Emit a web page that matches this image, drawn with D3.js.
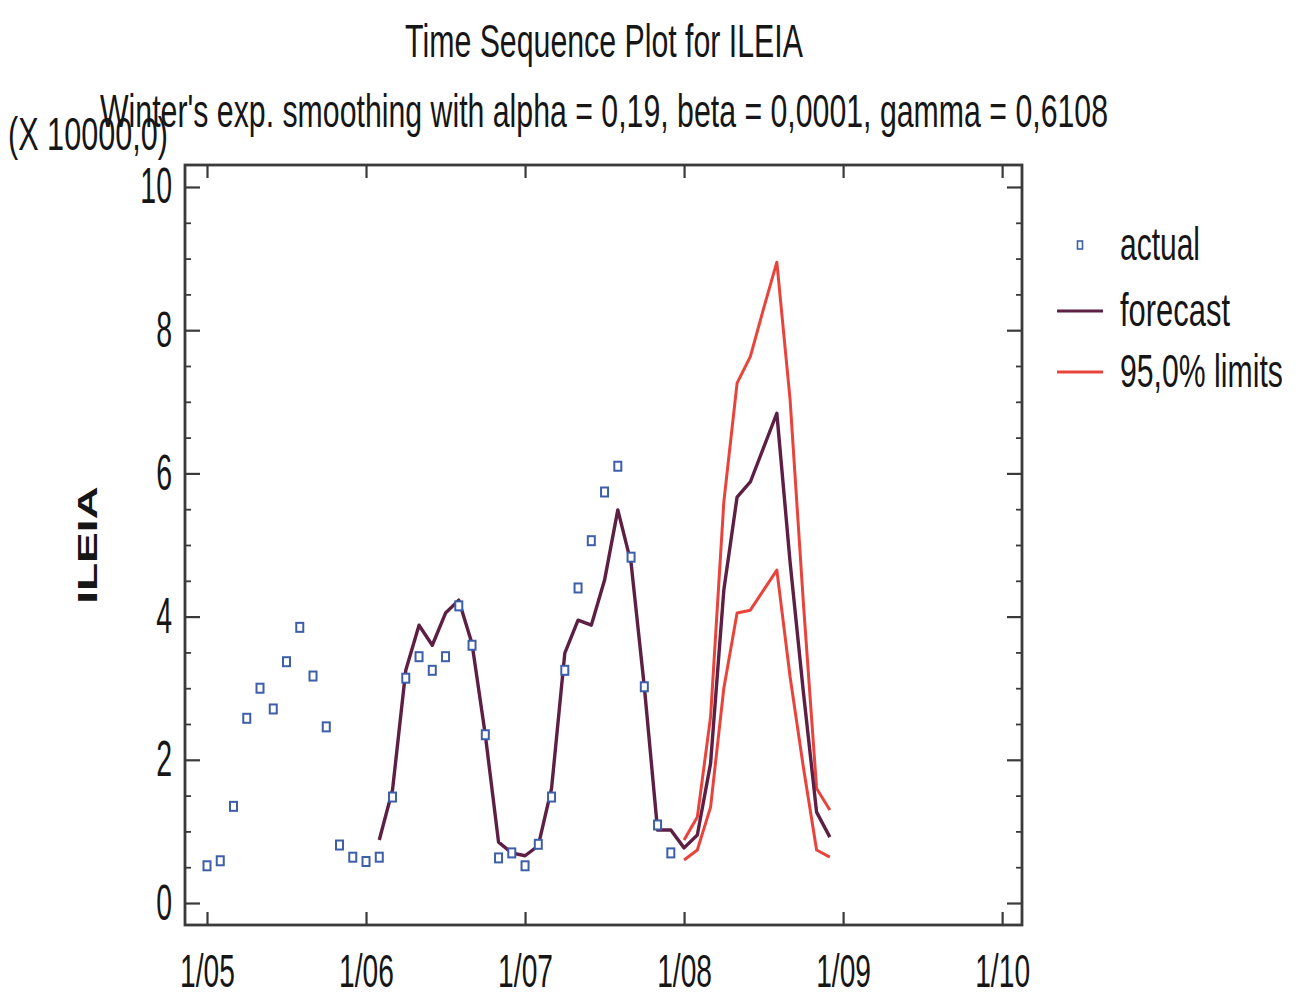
<!DOCTYPE html>
<html><head><meta charset="utf-8">
<script src="https://cdn.jsdelivr.net/npm/d3@7"></script>
<style>body{margin:0;background:#fff;overflow:hidden}</style>
</head><body><svg id="c" width="1300" height="996"></svg>
<script>
// ---- data (values in units of 10000) ----
const tickLabels = ["1/05","1/06","1/07","1/08","1/09","1/10"];
const tickMonths = [0,12,24,36,48,60];   // months since 1/05
const yTicks = [0,2,4,6,8,10];

const actualStart = 0;
const actual = [0.52,0.59,1.35,2.58,3.00,2.71,3.37,3.85,3.17,2.46,0.81,0.64,
                0.58,0.64,1.48,3.14,3.44,3.25,3.44,4.15,3.60,2.35,0.63,0.70,
                0.52,0.82,1.48,3.25,4.40,5.06,5.74,6.10,4.83,3.02,1.09,0.70];

const forecastStart = 13;
const forecast = [0.88,1.58,3.25,3.88,3.60,4.05,4.23,3.62,2.35,0.85,0.70,
                  0.66,0.80,1.60,3.49,3.95,3.88,4.51,5.49,4.75,3.02,1.02,1.02,
                  0.77,0.95,1.95,4.37,5.67,5.88,6.36,6.84,4.76,2.95,1.27,0.92];

const limitsStart = 36;
const upper = [0.88,1.20,2.60,5.60,7.26,7.63,8.30,8.95,7.03,4.20,1.60,1.30];
const lower = [0.60,0.74,1.34,3.00,4.05,4.09,4.37,4.65,3.16,1.90,0.74,0.64];

const titleText = "Time Sequence Plot for ILEIA";
const subtitleText = "Winter's exp. smoothing with alpha = 0,19, beta = 0,0001, gamma = 0,6108";
const unitText = "(X 10000,0)";
const yLabel = "ILEIA";
const legendLabels = ["actual","forecast","95,0% limits"];

// ---- styles ----
const FONT = "'Liberation Sans', Arial, Helvetica, sans-serif";
const C_ACT = "#3d5ea8", C_FC = "#5e1f44", C_LIM = "#e8443c", C_TXT = "#161616", C_AX = "#3a3a3a";

const svg = d3.select("#c");
const L = 185, R = 1022, T = 165, B = 925;

const x = d3.scaleLinear().domain([-1.66, 61.5]).range([L, R]);
const y = d3.scaleLinear().domain([-0.307, 10.307]).range([B, T]);

// ---- axes ----
const minor = d3.range(0, 10.01, 0.5).filter(v => v % 2 !== 0);

function styleAxis(g){
  g.select(".domain").remove();
  g.selectAll(".tick line").attr("stroke", C_AX).attr("stroke-width", 2.2);
}

const gl = svg.append("g").attr("transform", `translate(${L},0)`)
  .call(d3.axisLeft(y).tickValues(yTicks).tickSize(-15).tickPadding(13).tickFormat(d3.format("d")));
styleAxis(gl);
gl.selectAll(".tick text").attr("x", 0)
  .attr("transform", "translate(-13,0) scale(0.57,1)")
  .attr("font-family", FONT).attr("font-size", 50).attr("fill", C_TXT);

const glm = svg.append("g").attr("transform", `translate(${L},0)`)
  .call(d3.axisLeft(y).tickValues(minor).tickSize(-6).tickFormat(""));
styleAxis(glm); glm.selectAll(".tick line").attr("stroke-width", 1.8);

const gr = svg.append("g").attr("transform", `translate(${R},0)`)
  .call(d3.axisRight(y).tickValues(yTicks).tickSize(-15).tickFormat(""));
styleAxis(gr);
const grm = svg.append("g").attr("transform", `translate(${R},0)`)
  .call(d3.axisRight(y).tickValues(minor).tickSize(-6).tickFormat(""));
styleAxis(grm); grm.selectAll(".tick line").attr("stroke-width", 1.8);

const gb = svg.append("g").attr("transform", `translate(0,${B})`)
  .call(d3.axisBottom(x).tickValues(tickMonths).tickSize(-13).tickFormat((d,i) => tickLabels[i]));
styleAxis(gb);
gb.selectAll(".tick text").attr("y", 0).attr("dy", "0.71em")
  .attr("transform", "translate(0,29) scale(0.6,1)")
  .attr("font-family", FONT).attr("font-size", 47).attr("fill", C_TXT);

const gt = svg.append("g").attr("transform", `translate(0,${T})`)
  .call(d3.axisTop(x).tickValues(tickMonths).tickSize(-13).tickFormat(""));
styleAxis(gt);

// frame
svg.append("rect").attr("x", L).attr("y", T).attr("width", R - L).attr("height", B - T)
  .attr("fill", "none").attr("stroke", C_AX).attr("stroke-width", 2.8);

// ---- series ----
const line = d3.line().x(d => x(d[0])).y(d => y(d[1]));
const toPts = (arr, start) => arr.map((v, i) => [start + i, v]);

svg.append("path").datum(toPts(upper, limitsStart)).attr("d", line)
  .attr("fill", "none").attr("stroke", C_LIM).attr("stroke-width", 3).attr("stroke-linejoin", "round");
svg.append("path").datum(toPts(lower, limitsStart)).attr("d", line)
  .attr("fill", "none").attr("stroke", C_LIM).attr("stroke-width", 3).attr("stroke-linejoin", "round");
svg.append("path").datum(toPts(forecast, forecastStart)).attr("d", line)
  .attr("fill", "none").attr("stroke", C_FC).attr("stroke-width", 3.4).attr("stroke-linejoin", "round");

svg.append("g").selectAll("rect").data(toPts(actual, actualStart)).join("rect")
  .attr("x", d => x(d[0]) - 3.5).attr("y", d => y(d[1]) - 4.5)
  .attr("width", 7).attr("height", 9)
  .attr("fill", "#fff").attr("stroke", C_ACT).attr("stroke-width", 2);

// ---- texts: drawn at natural width, then squeezed horizontally to the target width ----
function squeezed(parent, str, tx, ty, targetW, anchor){
  const t = parent.append("text").attr("x", 0).attr("y", 0)
    .attr("text-anchor", anchor || "start")
    .attr("font-family", FONT).attr("font-size", 46).attr("fill", C_TXT).text(str);
  const w = t.node().getComputedTextLength();
  t.attr("transform", `translate(${tx},${ty}) scale(${targetW / w},1)`);
  return t;
}

squeezed(svg, titleText, 604, 57, 398, "middle");
squeezed(svg, unitText, 8, 150, 160);
squeezed(svg, subtitleText, 604, 127, 1008, "middle");

svg.append("text").attr("transform", "translate(97,545) scale(0.6,1) rotate(-90)")
  .attr("text-anchor", "middle").attr("font-family", FONT).attr("font-weight", "bold")
  .attr("font-size", 46).attr("fill", C_TXT).text(yLabel);

// ---- legend ----
const lg = svg.append("g");
const legY = [245, 311, 372];
const legW = [80, 110, 163];
lg.append("rect").attr("x", 1077.5).attr("y", legY[0] - 4).attr("width", 5).attr("height", 8)
  .attr("fill", "#fff").attr("stroke", C_ACT).attr("stroke-width", 1.6);
lg.append("line").attr("x1", 1057).attr("x2", 1103).attr("y1", legY[1]).attr("y2", legY[1])
  .attr("stroke", C_FC).attr("stroke-width", 3.2);
lg.append("line").attr("x1", 1057).attr("x2", 1103).attr("y1", legY[2]).attr("y2", legY[2])
  .attr("stroke", C_LIM).attr("stroke-width", 3);
legendLabels.forEach((t, i) => squeezed(lg, t, 1120, legY[i] + 15, legW[i]));
</script>
</body></html>
